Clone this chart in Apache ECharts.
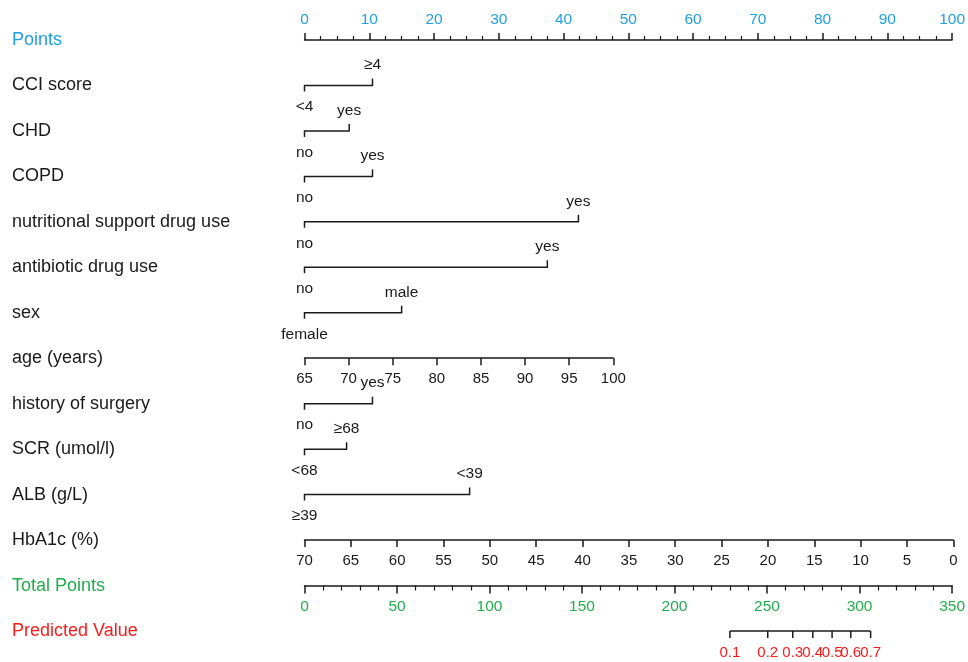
<!DOCTYPE html>
<html>
<head>
<meta charset="utf-8">
<script src="https://cdn.jsdelivr.net/npm/echarts@6/dist/echarts.min.js"></script>
<style>html,body{margin:0;padding:0;background:#fff}#c{width:968px;height:662px}</style>
</head>
<body>
<div id="c"></div>
<script>
// ---------- data ----------
var rowNames = ['Points','CCI score','CHD','COPD','nutritional support drug use','antibiotic drug use','sex','age (years)','history of surgery','SCR (umol/l)','ALB (g/L)','HbA1c (%)','Total Points','Predicted Value'];
// categorical variables: points for [low level, high level]
var cciPts = [0, 10.5],       cciLabels = ['<4', '≥4'];
var chdPts = [0, 6.9],        chdLabels = ['no', 'yes'];
var copdPts = [0, 10.5],      copdLabels = ['no', 'yes'];
var nutriPts = [0, 42.3],     nutriLabels = ['no', 'yes'];
var antibPts = [0, 37.5],     antibLabels = ['no', 'yes'];
var sexPts = [0, 15.0],       sexLabels = ['female', 'male'];
var surgPts = [0, 10.5],      surgLabels = ['no', 'yes'];
var scrPts = [0, 6.5],        scrLabels = ['<68', '≥68'];
var albPts = [0, 25.5],       albLabels = ['≥39', '<39'];
// continuous variables
var ageRange = [65, 100];     var agePtsMax = 47.6;   // age 100 -> 47.6 points
var hbaRange = [0, 70];       // 70 -> 0 points, 0 -> 100 points
var totalRange = [0, 350];
var predValues = [0.1, 0.2, 0.3, 0.4, 0.5, 0.6, 0.7];
var predTotals = [229.5, 249.9, 263.4, 274.2, 284.6, 294.7, 305.4];

// ---------- layout ----------
var L = 304.5, R = 14.7, W = 968 - L - R;
var TOP = 40, BOT = 31;
var STEP = (662 - BOT - TOP) / (rowNames.length - 1);
function rowY(i){ return TOP + i * STEP; }
var BLUE = '#1EA0E6', GREEN = '#20AF4C', RED = '#FF1A1A', INK = '#1a1a1a';
var FONT = 'Liberation Sans, Arial, sans-serif';

var catRows = [
  {row:1, pts:cciPts, labels:cciLabels},
  {row:2, pts:chdPts, labels:chdLabels},
  {row:3, pts:copdPts, labels:copdLabels},
  {row:4, pts:nutriPts, labels:nutriLabels},
  {row:5, pts:antibPts, labels:antibLabels},
  {row:6, pts:sexPts, labels:sexLabels},
  {row:8, pts:surgPts, labels:surgLabels},
  {row:9, pts:scrPts, labels:scrLabels},
  {row:10, pts:albPts, labels:albLabels}
];

var chart = echarts.init(document.getElementById('c'), null, {renderer:'canvas'});

function subGrid(row, width){
  var g = {left:L, top:rowY(row) - 10, height:10, containLabel:false};
  if (width != null) g.width = width; else g.right = R;
  return g;
}
function bottomAxis(gridIndex, opts){
  var a = {
    type:'value', gridIndex:gridIndex, position:'bottom',
    axisLine:{show:true, lineStyle:{color:INK, width:1.5}},
    axisTick:{show:true, length:7, lineStyle:{color:INK, width:1.5}},
    axisLabel:{show:true, margin:13, fontSize:15, fontFamily:FONT, color:INK, showMinLabel:true, showMaxLabel:true},
    splitLine:{show:false}
  };
  for (var k in opts) a[k] = opts[k];
  return a;
}
function hiddenY(gridIndex){
  return {type:'value', gridIndex:gridIndex, min:0, max:1, show:false, splitLine:{show:false}};
}

var option = {
  animation:false,
  backgroundColor:'#fff',
  textStyle:{fontFamily:FONT},
  grid:[
    {left:L, right:R, top:TOP, bottom:BOT},
    subGrid(7, W * agePtsMax / 100),
    subGrid(11),
    subGrid(12),
    subGrid(13)
  ],
  xAxis:[
    {type:'value', gridIndex:0, position:'top', min:0, max:100, interval:10,
     axisLine:{show:true, lineStyle:{color:INK, width:1.5}},
     axisTick:{show:true, length:7, lineStyle:{color:INK, width:1.5}},
     minorTick:{show:true, splitNumber:4, length:4, lineStyle:{color:INK, width:1.2}},
     axisLabel:{margin:12, fontSize:15.5, fontFamily:FONT, color:BLUE},
     splitLine:{show:false}, minorSplitLine:{show:false}},
    bottomAxis(1, {min:ageRange[0], max:ageRange[1], interval:5}),
    bottomAxis(2, {min:hbaRange[0], max:hbaRange[1], interval:5, inverse:true}),
    bottomAxis(3, {min:totalRange[0], max:totalRange[1], interval:50,
      axisTick:{show:true, length:8, lineStyle:{color:INK, width:1.5}},
      minorTick:{show:true, splitNumber:5, length:5, lineStyle:{color:INK, width:1.2}},
      minorSplitLine:{show:false},
      axisLabel:{margin:13, fontSize:15.5, fontFamily:FONT, color:GREEN}}),
    {type:'value', gridIndex:4, min:totalRange[0], max:totalRange[1], show:false, splitLine:{show:false}}
  ],
  yAxis:[
    {type:'category', gridIndex:0, inverse:true, boundaryGap:false, data:rowNames,
     axisLine:{show:false}, axisTick:{show:false}, splitLine:{show:false},
     axisLabel:{align:'left', margin:L - 12, fontSize:18, fontFamily:FONT, interval:0,
       color:function(v){ return v === 'Points' ? BLUE : (v === 'Total Points' ? GREEN : (v === 'Predicted Value' ? RED : INK)); }}},
    hiddenY(1), hiddenY(2), hiddenY(3), hiddenY(4)
  ],
  series:[
    {
      type:'custom', xAxisIndex:0, yAxisIndex:0, clip:false, silent:true,
      encode:{x:[0,1], y:2},
      data: catRows.map(function(r){ return [r.pts[0], r.pts[1], r.row]; }),
      renderItem:function(params, api){
        var r = catRows[params.dataIndex];
        var p0 = api.coord([api.value(0), api.value(2)]);
        var p1 = api.coord([api.value(1), api.value(2)]);
        return {type:'group', children:[
          {type:'polyline', shape:{points:[[p0[0], p0[1] + 6], [p0[0], p0[1]], [p1[0], p1[1]], [p1[0], p1[1] - 7]]},
           style:{stroke:INK, lineWidth:1.5, fill:null}},
          {type:'text', style:{x:p0[0], y:p0[1] + 21.5, text:r.labels[0], align:'center', verticalAlign:'middle', fontSize:15.5, fontFamily:FONT, fill:INK}},
          {type:'text', style:{x:p1[0], y:p1[1] - 20.5, text:r.labels[1], align:'center', verticalAlign:'middle', fontSize:15.5, fontFamily:FONT, fill:INK}}
        ]};
      }
    },
    {
      type:'custom', xAxisIndex:4, yAxisIndex:4, clip:false, silent:true,
      encode:{x:0, y:1},
      data: predTotals.map(function(t){ return [t, 0]; }),
      renderItem:function(params, api){
        var p = api.coord([api.value(0), api.value(1)]);
        var children = [
          {type:'line', shape:{x1:p[0], y1:p[1], x2:p[0], y2:p[1] + 7}, style:{stroke:INK, lineWidth:1.5}},
          {type:'text', style:{x:p[0], y:p[1] + 22, text:String(predValues[params.dataIndex]), align:'center', verticalAlign:'middle', fontSize:15, fontFamily:FONT, fill:RED}}
        ];
        if (params.dataIndex === 0) {
          var pe = api.coord([predTotals[predTotals.length - 1], 0]);
          children.push({type:'line', shape:{x1:p[0], y1:p[1], x2:pe[0], y2:pe[1]}, style:{stroke:INK, lineWidth:1.5}});
        }
        return {type:'group', children:children};
      }
    }
  ]
};
chart.setOption(option);
</script>
</body>
</html>
